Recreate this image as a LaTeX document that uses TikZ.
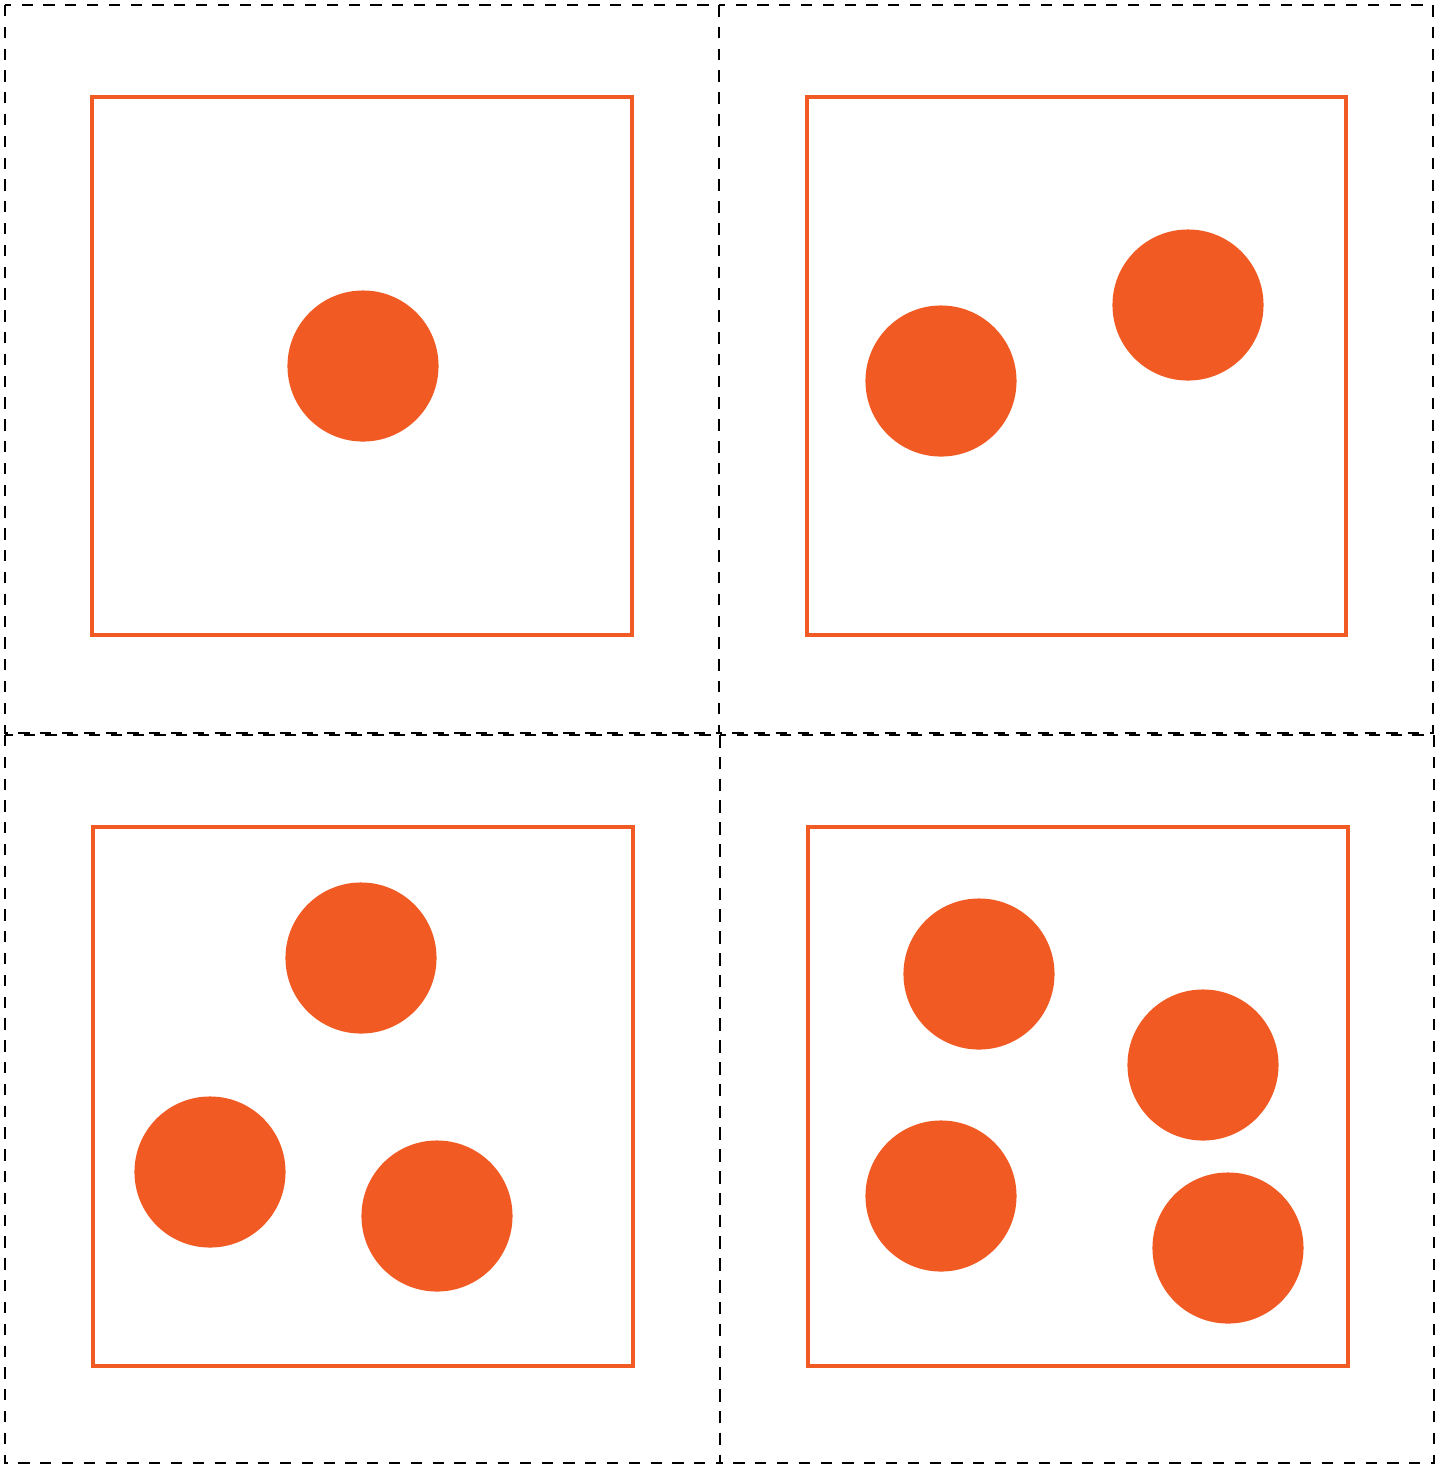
\documentclass[tikz,border=0pt]{standalone}
\usetikzlibrary{positioning}
\definecolor{accent1}{HTML}{F15A22}

\tikzset{
  cell/.style={draw=black, line width=0.75pt, dash pattern=on 3.2pt off 3pt},
  box/.style={draw=accent1, line width=1.2pt},
  dot/.style={fill=accent1, draw=none},
}

\begin{document}
\begin{tikzpicture}[x=0.01cm, y=-0.01cm]
\useasboundingbox (0,0) rectangle (1437,1465);
% dashed cells
\draw[cell] (5,5) rectangle (719,733);
\draw[cell] (719,5) rectangle (1433,733);
\draw[cell] (5,735) rectangle (720,1463);
\draw[cell] (720,735) rectangle (1434,1463);
% orange frames
\draw[box] (92,97) rectangle (632,635);
\draw[box] (807,97) rectangle (1346,635);
\draw[box] (93,827) rectangle (633,1366);
\draw[box] (808,827) rectangle (1348,1366);
% counters
\foreach \cx/\cy in {363/366, 941/381, 1188/305, 361/958, 210/1172, 437/1216,
                     979/974, 1203/1065, 941/1196, 1228/1248}
  \fill[dot] (\cx,\cy) circle[radius=0.755cm];
\end{tikzpicture}
\end{document}
